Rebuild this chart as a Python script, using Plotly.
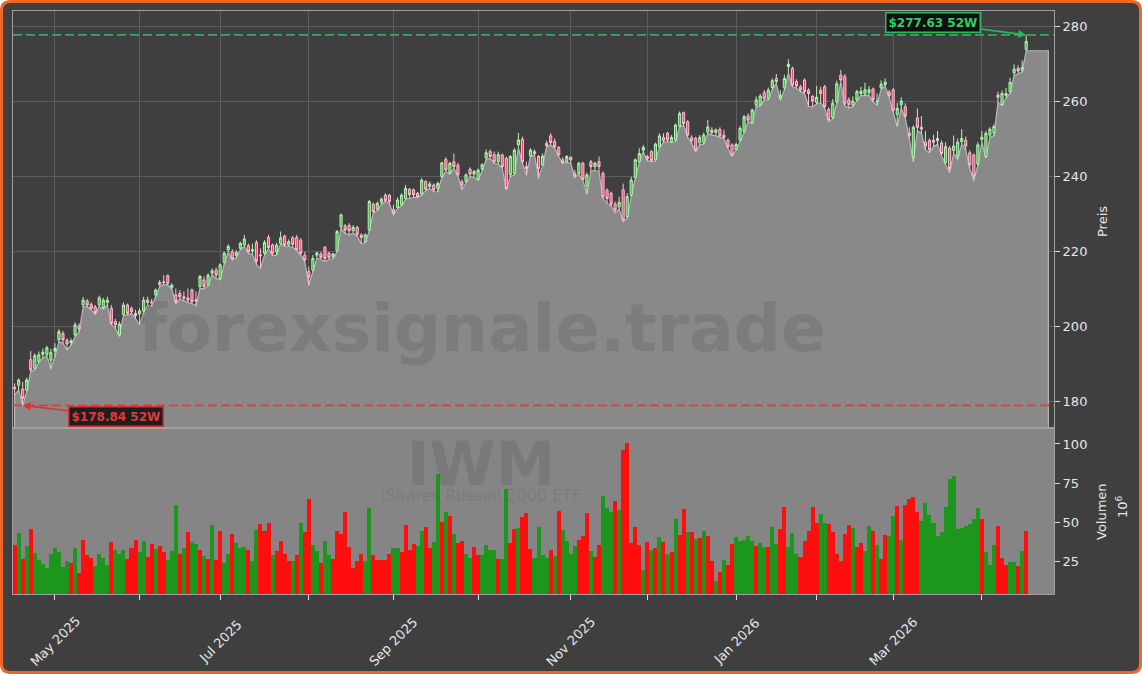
import pandas as pd
import plotly.graph_objects as go
from plotly.subplots import make_subplots

# ---------------- data ----------------
HOLIDAYS = ["2025-04-18", "2025-05-26", "2025-06-19", "2025-07-04", "2025-09-01",
            "2025-11-27", "2025-12-25", "2026-01-01", "2026-01-19", "2026-02-16", "2026-04-03"]
dates = pd.bdate_range("2025-04-16", "2026-04-17", freq="C", holidays=HOLIDAYS)

open_ = [183.7, 184.2, 183.2, 182.9, 191.0, 188.7, 190.5, 192.5, 192.4, 190.9,
         193.3, 196.3, 198.0, 196.2, 195.6, 197.6, 200.0, 205.6, 206.7, 205.8,
         205.1, 205.6, 204.9, 206.3, 204.7, 201.2, 197.6, 203.1, 205.6, 204.7,
         203.4, 203.2, 204.0, 206.9, 206.4, 208.3, 211.6, 211.8, 213.4, 210.2,
         208.3, 208.7, 207.8, 207.5, 209.6, 207.0, 210.5, 212.3, 210.9, 214.1,
         214.9, 212.7, 217.0, 220.3, 219.8, 218.8, 220.7, 221.6, 221.4, 220.0,
         222.3, 219.0, 219.4, 223.6, 221.6,
         219.8, 222.0, 224.0, 221.6, 223.5, 223.6, 222.9, 218.9, 214.5, 214.9,
         218.9, 219.2, 221.0, 219.4, 218.4, 220.1, 226.5, 226.7, 226.8, 225.4,
         226.3, 224.3, 222.5, 225.6, 232.5, 231.1, 233.0, 234.9, 234.9, 231.1,
         231.6, 232.3, 234.0, 236.5, 236.3, 235.4, 235.2, 238.5, 237.2, 237.6,
         236.7, 239.8, 244.4, 240.9, 243.8, 242.9, 238.5, 238.5, 241.8, 240.5,
         239.1, 241.9, 244.8, 246.5, 245.7, 243.8, 245.6, 244.7, 240.3, 240.7,
         248.3, 249.8, 242.5,
         245.3, 246.5, 245.2, 242.9, 248.7, 250.7, 249.2, 247.6, 244.3, 243.8,
         245.0, 240.7, 240.7, 243.4, 237.3, 243.8, 242.5, 243.8, 240.7, 236.2,
         235.4, 232.5, 231.8, 236.3, 229.2, 234.9, 239.6, 243.8, 246.9, 245.2,
         246.5, 244.3, 247.8, 250.3, 251.4, 249.2, 249.6, 253.3, 256.9, 254.5,
         250.3, 250.0, 248.9, 249.0, 251.8, 252.3, 251.6, 252.4, 250.9, 249.6,
         248.3, 247.1, 249.6, 251.8, 256.0, 254.2, 258.9, 258.9, 262.2, 260.7,
         263.6, 266.0,
         260.7, 263.5, 269.2, 268.7, 265.2, 263.8, 265.6, 262.9, 261.2, 259.6,
         262.9, 263.8, 257.8, 255.6, 259.8, 266.9, 266.5, 260.3, 258.9, 260.3,
         262.0, 261.8, 262.2, 263.2, 259.8, 263.5, 264.4, 262.4, 263.0, 256.4,
         259.0, 258.5, 251.5, 245.0, 255.5, 253.0, 249.0, 249.5, 249.5, 249.4,
         248.8, 243.5, 247.4, 246.8, 245.4, 249.2, 249.5, 246.2, 245.6, 243.2,
         249.8, 245.2, 250.9, 251.4, 261.6, 259.0, 261.5, 262.5, 267.5, 268.7,
         268.2, 273.8]

high = [184.7, 186.0, 185.1, 186.2, 193.3, 192.7, 193.2, 194.0, 194.7, 193.9,
        195.4, 199.2, 198.7, 196.7, 196.7, 201.0, 200.7, 207.8, 207.2, 206.3,
        205.6, 208.1, 207.5, 207.8, 205.6, 201.9, 201.2, 206.3, 206.0, 205.2,
        204.3, 204.7, 207.8, 207.8, 207.2, 210.0, 212.3, 213.6, 213.8, 211.4,
        210.0, 209.6, 209.2, 210.0, 210.0, 209.2, 213.6, 213.2, 214.0, 215.4,
        215.6, 216.7, 219.8, 221.8, 220.5, 220.3, 222.5, 224.3, 222.0, 222.0,
        222.9, 220.7, 222.9, 224.3, 222.0,
        222.2, 225.2, 224.3, 223.1, 224.0, 224.3, 223.4, 219.8, 215.8, 218.9,
        219.8, 219.8, 221.3, 219.8, 219.5, 225.6, 230.0, 227.2, 227.4, 226.9,
        226.7, 224.7, 224.7, 233.6, 232.9, 233.2, 234.3, 235.4, 235.2, 232.3,
        234.3, 235.4, 237.6, 236.7, 236.7, 235.8, 239.4, 238.9, 238.5, 238.0,
        238.5, 243.8, 245.0, 243.8, 246.0, 243.5, 239.1, 240.7, 242.3, 241.6,
        242.0, 243.4, 247.1, 247.1, 246.5, 246.5, 246.0, 245.2, 245.6, 247.4,
        251.5, 250.5, 243.8,
        247.4, 247.1, 245.6, 246.0, 249.4, 251.4, 250.0, 248.0, 245.0, 245.6,
        245.2, 241.6, 243.8, 243.8, 240.9, 244.3, 243.8, 245.2, 241.2, 236.7,
        235.8, 233.2, 234.5, 238.0, 235.4, 239.8, 244.7, 247.4, 248.3, 245.6,
        246.9, 248.9, 251.4, 251.4, 251.8, 250.9, 254.0, 257.2, 257.2, 254.9,
        250.9, 250.5, 250.9, 251.6, 254.9, 253.0, 252.7, 253.0, 252.3, 250.0,
        248.7, 248.9, 253.3, 256.3, 256.7, 258.0, 261.2, 261.9, 262.9, 263.6,
        266.0, 267.2,
        262.9, 267.0, 271.1, 269.2, 265.8, 264.3, 266.0, 263.4, 261.6, 264.0,
        263.8, 264.3, 258.3, 260.5, 265.4, 268.3, 267.2, 261.0, 261.2, 263.0,
        263.8, 264.9, 264.0, 263.6, 262.0, 265.5, 266.0, 263.0, 263.5, 259.5,
        261.0, 259.4, 253.0, 253.5, 258.0, 256.0, 252.0, 250.0, 251.0, 252.0,
        249.5, 249.0, 248.0, 250.8, 250.0, 252.5, 250.5, 246.8, 246.0, 249.0,
        252.0, 252.0, 253.0, 253.8, 262.5, 262.8, 263.5, 266.2, 269.8, 269.5,
        270.8, 277.63]

low = [181.6, 182.9, 178.84, 182.5, 187.8, 188.3, 190.3, 191.5, 192.0, 188.7,
       191.8, 195.8, 195.4, 193.6, 194.9, 197.2, 198.3, 205.0, 205.2, 204.3,
       203.1, 205.2, 204.5, 205.6, 200.4, 199.4, 197.3, 202.9, 202.9, 203.4,
       202.0, 200.4, 203.6, 205.6, 205.2, 207.8, 210.5, 211.1, 210.9, 209.9,
       206.0, 207.2, 206.7, 206.3, 206.0, 205.4, 210.0, 209.9, 210.7, 213.6,
       212.7, 212.3, 216.4, 219.8, 217.6, 218.2, 220.3, 221.2, 219.4, 219.1,
       216.4, 215.4, 218.9, 220.6, 218.8,
       218.9, 221.9, 221.3, 221.2, 221.0, 220.1, 218.9, 217.2, 210.9, 214.5,
       218.0, 217.8, 217.2, 217.8, 218.0, 219.8, 226.0, 224.7, 224.3, 224.7,
       224.0, 222.0, 222.2, 225.4, 230.2, 230.7, 232.5, 233.2, 232.7, 229.6,
       231.4, 232.0, 233.8, 234.0, 234.3, 234.3, 234.9, 236.1, 236.7, 235.8,
       235.8, 239.6, 241.2, 240.5, 242.0, 240.0, 236.4, 238.2, 239.8, 239.6,
       238.9, 241.4, 244.4, 244.7, 243.4, 243.2, 242.0, 236.4, 239.8, 240.3,
       247.5, 243.4, 240.3,
       245.2, 245.6, 239.6, 242.7, 247.8, 248.3, 247.4, 245.2, 243.4, 243.6,
       243.4, 239.6, 240.5, 238.8, 235.2, 241.4, 241.4, 241.2, 234.0, 232.7,
       232.0, 230.2, 231.1, 227.8, 228.7, 234.5, 239.4, 243.6, 246.5, 244.1,
       243.8, 244.0, 247.6, 248.9, 249.2, 248.9, 249.2, 253.0, 253.6, 250.3,
       248.7, 246.5, 248.3, 248.5, 251.4, 250.9, 250.7, 250.3, 250.0, 247.4,
       245.3, 246.9, 249.2, 251.6, 254.5, 254.0, 258.5, 258.7, 260.3, 260.3,
       263.1, 264.7,
       260.3, 263.0, 267.4, 263.8, 263.4, 262.5, 262.0, 258.6, 258.5, 259.2,
       259.5, 258.0, 254.5, 255.2, 259.4, 265.2, 258.8, 258.2, 258.5, 260.0,
       261.5, 261.4, 261.5, 259.8, 258.9, 263.2, 264.0, 261.0, 257.0, 253.2,
       258.0, 255.5, 250.0, 243.8, 252.0, 251.5, 247.0, 246.2, 247.8, 248.5,
       245.5, 243.0, 241.0, 246.0, 244.5, 248.5, 247.0, 242.0, 238.9, 242.8,
       249.0, 244.8, 250.2, 250.8, 259.5, 258.8, 260.8, 262.0, 266.8, 267.2,
       267.8, 273.4]

close = [183.3, 185.6, 180.7, 185.6, 188.3, 192.1, 192.3, 193.0, 194.2, 192.9,
         194.0, 198.5, 196.3, 195.2, 196.0, 200.3, 199.2, 206.9, 205.6, 204.7,
         203.6, 207.5, 206.9, 206.9, 200.7, 200.3, 200.5, 205.6, 203.4, 203.8,
         202.8, 204.0, 206.9, 206.3, 206.1, 209.6, 211.1, 211.6, 211.4, 210.9,
         206.5, 207.8, 207.4, 206.9, 206.5, 206.7, 213.2, 210.5, 213.6, 214.7,
         213.6, 216.3, 219.4, 221.2, 218.0, 219.6, 222.0, 223.2, 219.8, 220.4,
         217.3, 218.7, 222.3, 220.9, 219.4,
         221.6, 223.5, 221.6, 222.5, 221.8, 220.3, 219.4, 217.6, 213.1, 218.0,
         219.5, 218.3, 218.0, 218.3, 219.2, 225.2, 229.6, 225.6, 225.4, 226.3,
         224.5, 223.6, 224.3, 233.2, 230.5, 232.7, 233.8, 233.4, 233.2, 230.2,
         233.6, 234.9, 236.7, 235.0, 235.0, 234.5, 238.9, 236.5, 237.9, 236.3,
         238.0, 243.5, 241.6, 243.4, 242.5, 240.3, 237.6, 240.3, 240.5, 241.2,
         241.6, 243.0, 246.2, 245.2, 243.8, 245.7, 242.5, 236.7, 245.2, 246.9,
         249.6, 243.8, 242.0,
         246.9, 245.9, 242.0, 245.3, 248.1, 248.9, 247.8, 245.6, 243.6, 245.2,
         244.3, 240.0, 243.4, 239.1, 240.3, 242.5, 243.4, 242.5, 234.5, 234.0,
         232.5, 231.0, 233.0, 228.3, 234.5, 238.9, 244.3, 246.0, 247.6, 244.6,
         244.1, 248.5, 250.7, 249.4, 249.6, 250.3, 253.6, 256.7, 254.0, 250.9,
         249.4, 246.9, 250.3, 250.9, 253.1, 251.6, 252.3, 250.7, 250.3, 247.8,
         245.6, 248.4, 252.7, 255.8, 254.9, 257.6, 260.3, 261.3, 260.7, 262.9,
         265.4, 265.2,
         261.5, 266.0, 269.8, 264.3, 264.0, 263.0, 262.5, 262.0, 260.0, 261.0,
         262.0, 258.5, 255.0, 259.4, 264.6, 265.6, 259.4, 259.0, 260.0, 262.5,
         262.6, 263.0, 263.0, 260.3, 260.0, 264.5, 265.0, 261.5, 257.6, 258.0,
         260.0, 256.0, 250.8, 253.0, 253.0, 252.5, 248.0, 247.0, 249.0, 250.0,
         246.0, 247.8, 242.0, 248.0, 249.0, 250.0, 248.0, 243.0, 240.0, 248.3,
         250.3, 251.4, 252.5, 253.2, 261.0, 262.0, 262.0, 265.0, 268.5, 268.0,
         269.0, 275.9]

# volume in millions
volume = [35.6, 43.0, 26.7, 35.0, 45.8, 30.7, 26.0, 23.5, 21.1, 29.8,
          33.5, 30.9, 21.8, 25.4, 24.3, 33.5, 18.0, 38.8, 29.2, 27.1,
          22.2, 29.8, 27.1, 22.8, 37.5, 32.4, 29.8, 32.4, 26.7, 33.5,
          38.8, 31.3, 38.1, 27.7, 36.2, 33.0, 35.0, 31.3, 26.0, 32.0,
          61.1, 29.8, 33.5, 44.1, 37.5, 36.2, 32.4, 28.6, 26.4, 48.3,
          26.0, 44.5, 24.3, 30.0, 42.6, 36.6, 33.5, 34.5, 32.4, 25.6,
          45.1, 48.8, 44.5, 49.4, 29.2, 31.8, 38.1, 29.8, 25.6, 25.6,
          29.2, 49.8, 44.1, 64.7, 35.6, 32.0, 23.9, 38.1, 29.2, 26.4,
          44.5, 42.6, 56.6, 34.3, 21.1, 25.4, 29.8, 25.4, 59.0, 29.2,
          26.0, 26.0, 26.0, 29.8, 33.7, 33.7, 31.1, 48.1, 32.4, 36.2,
          34.9, 44.5, 47.3, 33.7, 37.5, 80.9, 50.3, 56.6, 54.1, 42.6,
          37.1, 38.1, 29.8, 27.3, 34.3, 29.2, 29.2, 35.4, 32.4, 32.4,
          26.6, 26.6, 71.3, 36.6, 45.8, 46.6, 53.4, 56.0, 33.0, 27.3,
          47.0, 29.2, 27.3, 32.4, 28.6, 57.5, 45.1, 38.1, 29.8, 34.9,
          38.8, 41.3, 56.0, 31.8, 28.1, 35.6, 66.8, 59.2, 56.6, 63.6,
          57.9, 96.2, 100.6, 36.9, 47.0, 35.6, 19.6, 37.5, 32.4, 33.7,
          40.7, 37.5, 29.8, 31.1, 52.2, 41.9, 58.5, 43.9, 43.9, 39.4,
          40.0, 44.5, 41.3, 25.4, 12.6, 18.4, 26.0, 22.8, 36.2, 40.7,
          38.1, 38.8, 41.3, 38.0, 35.0, 37.0, 34.0, 34.0, 47.0, 36.0,
          46.0, 60.0, 34.0, 43.0, 30.0, 28.1, 38.1, 44.5, 60.0, 49.8,
          55.3, 49.8, 49.0, 43.9, 29.8, 25.4, 42.6, 48.3, 46.4, 34.5,
          37.1, 31.7, 47.7, 44.5, 35.6, 26.6, 41.9, 41.3, 54.1, 60.4,
          38.8, 61.1, 64.9, 66.2, 56.6, 50.9, 62.4, 54.7, 49.6, 41.3,
          43.9, 59.8, 77.7, 79.6, 45.8, 46.2, 47.7, 49.0, 52.1, 59.2,
          52.1, 31.1, 22.8, 35.6, 47.7, 27.3, 22.8, 24.7, 24.7, 22.2,
          31.7, 44.5]

# volume bar direction: u = up (green), d = down (red)
volume_dir = list(
    "dudud" "uuuuu" "uuuud" "udddd" "uuuud" "uuudd" "duudd" "udduu" "udud" "uudu" "dudd" "uuduu" "uduu"
    "dddud" "dddud" "udduu" "duudd" "dddd" "dduud" "ddddu" "udddd" "uudduud" "ududd" "uudd"
    "uuuuduu" "ddudd" "duuuu" "dudu" "uuudd" "dudduu" "ududd" "dddud" "udud" "udud" "dudud"
    "uddud" "udduu" "uuuduu" "duudd" "uuuddd" "dduud" "ddddd" "udduu" "dudd" "uudu" "ddd" "d"
    "uuuuu" "uuuuu" "uuu" "uud" "uuuddd" "uududuu" "uud"
)
volume_dir = (volume_dir + ["u"] * 300)[:len(volume)]

price_ticks = [180, 200, 220, 240, 260, 280]
volume_ticks = [25, 50, 75, 100]
high_52w = 277.63
low_52w = 178.84
watermark = "forexsignale.trade"
ticker = "IWM"
ticker_name = "iShares Russell 2000 ETF"

n = min(len(dates), len(open_), len(high), len(low), len(close), len(volume))
x = list(range(n))
open_, high, low, close, volume = open_[:n], high[:n], low[:n], close[:n], volume[:n]
month_idx = [i for i in range(1, n) if dates[i].month != dates[i - 1].month]

# ---------------- style ----------------
BG = "#3f3f3f"
FONT = "DejaVu Sans"
TXT = "#e6e6e6"
GRID = "#5d5d5d"
SPINE = "#a0a0a0"

fig = make_subplots(rows=2, cols=1, shared_xaxes=True, vertical_spacing=0,
                    row_heights=[417, 166])

# gray area under the lows (drawn between grid and traces)
ext = 5.5
fill_x = [x[0]] + x + [x[-1] + ext, x[-1] + ext]
fill_y = [150] + low + [low[-1], 150]
path = "M " + " L ".join(f"{a},{b}" for a, b in zip(fill_x, fill_y)) + " Z"

shapes = []
W, H, L, T, PW, PH = 1142, 674, 13, 11, 1041, 583
def px(u): return (u - L) / PW
def py(v): return (T + PH - v) / PH
r = 9
x0p, x1p, y0p, y1p = 1.5, W - 1.5, 1.5, H - 1.5
frame = (f"M {px(x0p + r)},{py(y0p)} L {px(x1p - r)},{py(y0p)} Q {px(x1p)},{py(y0p)} {px(x1p)},{py(y0p + r)} "
         f"L {px(x1p)},{py(y1p - r)} Q {px(x1p)},{py(y1p)} {px(x1p - r)},{py(y1p)} "
         f"L {px(x0p + r)},{py(y1p)} Q {px(x0p)},{py(y1p)} {px(x0p)},{py(y1p - r)} "
         f"L {px(x0p)},{py(y0p + r)} Q {px(x0p)},{py(y0p)} {px(x0p + r)},{py(y0p)} Z")
shapes.append(dict(type="path", path=frame, xref="paper", yref="paper", layer="below",
                   fillcolor=BG, line=dict(color="#f26522", width=3)))
shapes.append(dict(type="rect", xref="x2 domain", yref="y2 domain", x0=0, x1=1, y0=0, y1=1,
                   layer="below", fillcolor="#858585", line=dict(width=0)))
shapes.append(dict(type="path", path=path, xref="x", yref="y", layer="between",
                   fillcolor="#898989", line=dict(color="#b8b8b8", width=1.2)))
shapes.append(dict(type="line", xref="x domain", yref="y", x0=0, x1=1, y0=high_52w, y1=high_52w,
                   line=dict(color="#3aa860", width=1.6, dash="9px,4px")))
shapes.append(dict(type="line", xref="x domain", yref="y", x0=0, x1=1, y0=low_52w, y1=low_52w,
                   line=dict(color="#d84040", width=1.6, dash="9px,4px")))

fig.add_trace(go.Candlestick(
    x=x, open=open_, high=high, low=low, close=close,
    increasing=dict(line=dict(color="#b4f5b4", width=1), fillcolor="#47b447"),
    decreasing=dict(line=dict(color="#ffc2d0", width=1), fillcolor="#f04a78"),
    whiskerwidth=0, showlegend=False, hoverinfo="skip"), row=1, col=1)

vol_colors = ["#1d961d" if d == "u" else "#ff0e0e" for d in volume_dir]
fig.add_trace(go.Bar(x=x, y=volume, marker=dict(color=vol_colors, line=dict(width=0)),
                     width=1.0, showlegend=False, hoverinfo="skip"), row=2, col=1)

xr = [-0.4, 257.9]
fig.update_xaxes(range=xr, rangeslider_visible=False, tickvals=month_idx, zeroline=False,
                 showticklabels=False)
fig.update_xaxes(row=1, col=1, showgrid=True, gridcolor=GRID, gridwidth=1, ticks="",
                 showline=True, mirror=True, linecolor=SPINE, linewidth=1)
fig.update_xaxes(row=2, col=1, showgrid=False, ticks="outside", ticklen=5, tickwidth=1,
                 tickcolor="#dddddd", showline=True, mirror=True, linecolor=SPINE, linewidth=1)
fig.update_yaxes(row=1, col=1, side="right", range=[172.8, 284], tickvals=price_ticks,
                 showgrid=True, gridcolor=GRID, gridwidth=1, ticks="outside", ticklen=5,
                 tickcolor="#dddddd", tickfont=dict(family=FONT, size=13, color=TXT),
                 showline=True, mirror=True, linecolor=SPINE, linewidth=1, zeroline=False)
fig.update_yaxes(row=2, col=1, side="right", range=[4.3, 110.2], tickvals=volume_ticks,
                 showgrid=False, ticks="outside", ticklen=5, tickcolor="#dddddd",
                 tickfont=dict(family=FONT, size=13, color=TXT),
                 showline=True, mirror=True, linecolor=SPINE, linewidth=1, zeroline=False)

C = dict(xanchor="center", yanchor="middle", showarrow=False)
ann = []
for i in month_idx:
    if dates[i].month % 2 == 1:
        ann.append(dict(x=i, xref="x2", y=py(641), yref="paper", text=dates[i].strftime("%b %Y"),
                        textangle=-45, font=dict(family=FONT, size=13, color=TXT), **C))
ann += [
    dict(x=px(1102), y=py(222), xref="paper", yref="paper", text="Preis", textangle=-90,
         font=dict(family=FONT, size=13, color=TXT), **C),
    dict(x=px(1101), y=py(512), xref="paper", yref="paper", text="Volumen", textangle=-90,
         font=dict(family=FONT, size=13, color=TXT), **C),
    dict(x=px(1122), y=py(507), xref="paper", yref="paper", text="10<sup>6</sup>", textangle=-90,
         font=dict(family=FONT, size=13, color=TXT), **C),
    dict(x=px(482), y=py(328), xref="paper", yref="paper", text=f"<b>{watermark}</b>",
         font=dict(family=FONT, size=66, color="rgba(40,40,40,0.13)"), **C),
    dict(x=px(481), y=py(467), xref="paper", yref="paper",
         text=(f"<span style='font-size:60px'><b>{ticker}</b></span><br>"
               f"<span style='font-size:16px'>{ticker_name}</span>"),
         font=dict(family=FONT, size=12, color="rgba(50,50,50,0.13)"), **C),
]
i_hi = max(range(n), key=lambda k: high[k])
i_lo = min(range(n), key=lambda k: low[k])
ann.append(dict(x=i_hi, y=high[i_hi], xref="x", yref="y", text=f"<b>${high[i_hi]:.2f} 52W</b>",
                showarrow=True, ax=-93, ay=-12, arrowhead=2, arrowsize=1, arrowwidth=1.6,
                arrowcolor="#2fb85a", bgcolor="#101010", bordercolor="#2fb85a", borderwidth=1.5,
                borderpad=2, font=dict(family=FONT, size=12, color="#33cc66")))
ann.append(dict(x=i_lo, y=low[i_lo], xref="x", yref="y", text=f"<b>${low[i_lo]:.2f} 52W</b>",
                showarrow=True, ax=93, ay=11, arrowhead=2, arrowsize=1, arrowwidth=1.6,
                arrowcolor="#e03030", bgcolor="#1e1e1e", bordercolor="#d83030", borderwidth=1.5,
                borderpad=2, font=dict(family=FONT, size=12, color="#e03a3a")))

fig.update_layout(width=W, height=H, autosize=False,
                  margin=dict(l=L, r=W - L - PW, t=T, b=H - T - PH),
                  paper_bgcolor="white", plot_bgcolor=BG, shapes=shapes, annotations=ann,
                  showlegend=False, font=dict(family=FONT, color=TXT), bargap=0, boxgap=0.25)

fig.write_html("out.html", config={"displayModeBar": False},
               post_script="document.body.style.margin='0px';")
